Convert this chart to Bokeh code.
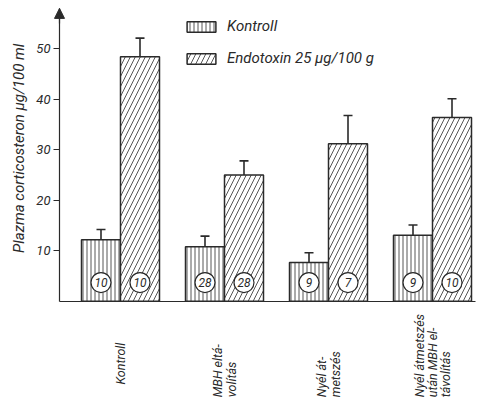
from bokeh.plotting import figure
from bokeh.models import (ColumnDataSource, Range1d, FixedTicker, Whisker, TeeHead,
                          Legend, LegendItem, Arrow, NormalHead, LinearAxis)
from bokeh.core.properties import value
from bokeh.embed import file_html
from bokeh.resources import INLINE

# ---- data ----
categories = ["Kontroll", "MBH eltá-\nvolítás", "Nyél át-\nmetszés",
              "Nyél átmetszés\nután MBH el-\ntávolítás"]
control_mean = [12.2, 10.8, 7.7, 13.1]
control_err = [2.0, 2.1, 1.9, 2.0]
control_n = ["10", "28", "9", "9"]
endo_mean = [48.4, 25.0, 31.2, 36.4]
endo_err = [3.7, 2.8, 5.6, 3.7]
endo_n = ["10", "28", "7", "10"]
y_ticks = [10, 20, 30, 40, 50]
series_names = ["Kontroll", "Endotoxin 25 µg/100 g"]
y_label = "Plazma corticosteron µg/100 ml"

INK = "#2a2a2a"
FONT = "Roboto"
BW = 0.375

idx = list(range(len(categories)))
ctrl = ColumnDataSource(dict(
    x=[i - BW / 2 for i in idx], top=control_mean,
    upper=[m + e for m, e in zip(control_mean, control_err)],
    lower=[m - e for m, e in zip(control_mean, control_err)],
    n=control_n, ny=[3.7] * len(idx)))
endo = ColumnDataSource(dict(
    x=[i + BW / 2 for i in idx], top=endo_mean,
    upper=[m + e for m, e in zip(endo_mean, endo_err)],
    lower=[m - e for m, e in zip(endo_mean, endo_err)],
    n=endo_n, ny=[3.7] * len(idx)))
cats = ColumnDataSource(dict(x=idx, y=[-16.5, -19.0, -19.0, -19.0], text=categories))

x0 = -0.5865      # where the y axis sits
x1 = 3.413        # right end of the base line
y_top = 58        # top of the y axis (arrow tip)
p = figure(width=480, height=403, output_backend="svg", toolbar_location=None,
           x_range=Range1d(-1.1538, 3.4615), y_range=Range1d(-20.24, 59.56),
           x_axis_type=None, min_border_left=0, min_border_right=0,
           min_border_top=0, min_border_bottom=0,
           background_fill_color="white", border_fill_color="white")
p.outline_line_color = None
p.grid.visible = False

r_ctrl = p.vbar(x="x", top="top", width=BW, bottom=0, source=ctrl,
                fill_color="white", line_color=INK, line_width=1.5,
                hatch_pattern="vertical_line", hatch_color=INK,
                hatch_scale=4, hatch_weight=0.8)
r_endo = p.vbar(x="x", top="top", width=BW, bottom=0, source=endo,
                fill_color="white", line_color=INK, line_width=1.5,
                hatch_pattern="right_diagonal_line", hatch_color=INK,
                hatch_scale=10, hatch_weight=0.8)

for src in (ctrl, endo):
    w = Whisker(base="x", upper="upper", lower="lower", source=src,
                line_color=INK, line_width=1.6,
                upper_head=TeeHead(size=9, line_color=INK, line_width=1.6),
                lower_head=TeeHead(size=9, line_color=INK, line_width=1.6))
    p.add_layout(w)
    p.scatter(x="x", y="ny", source=src, size=20, marker="circle",
              fill_color="white", line_color=INK, line_width=1.2)
    p.text(x="x", y="ny", text="n", source=src, text_align="center",
           text_baseline="middle", text_font=value(FONT),
           text_font_style="italic", text_font_size="12px", text_color=INK)

# category labels (rotated, under the groups)
p.text(x="x", y="y", text="text", source=cats, angle=1.5708,
       text_align="left", text_baseline="middle", text_font=value(FONT),
       text_font_style="italic", text_font_size="12.5px", text_color=INK,
       text_line_height=0.88)

# y axis, fixed inside the full-canvas frame
ax = p.yaxis[0]
ax.fixed_location = x0
ax.bounds = (0, y_top)
ax.ticker = FixedTicker(ticks=y_ticks)
ax.minor_tick_line_color = None
ax.major_tick_in = 0
ax.major_tick_out = 6
ax.major_tick_line_color = INK
ax.axis_line_color = INK
ax.axis_line_width = 1.2
ax.major_label_text_font = FONT
ax.major_label_text_font_style = "italic"
ax.major_label_text_font_size = "13px"
ax.major_label_text_color = INK
ax.major_label_standoff = 3

# x base line as an axis without ticks
xax = LinearAxis(fixed_location=0, bounds=(x0, x1), ticker=FixedTicker(ticks=[]),
                 major_tick_line_color=None, minor_tick_line_color=None,
                 major_label_text_font_size="0px", axis_line_color=INK,
                 axis_line_width=1.2)
p.add_layout(xax, "below")

# y-axis title
p.text(x=[-0.98], y=[30.3], text=[y_label], angle=1.5708, text_align="center",
       text_baseline="middle", text_font=value(FONT), text_font_style="italic",
       text_font_size="15px", text_color=INK)

p.add_layout(Arrow(end=NormalHead(size=10, fill_color=INK, line_color=INK),
                   x_start=x0, y_start=y_top - 3, x_end=x0, y_end=y_top,
                   line_color=INK, line_width=1.2))

legend = Legend(items=[LegendItem(label=series_names[0], renderers=[r_ctrl]),
                       LegendItem(label=series_names[1], renderers=[r_endo])],
                location=(183, 336), border_line_color=None,
                background_fill_alpha=0, glyph_width=36, glyph_height=13,
                label_height=13, spacing=14, padding=0, margin=0,
                label_standoff=8, label_text_font=FONT,
                label_text_font_style="italic", label_text_font_size="15px",
                label_text_color=INK)
p.add_layout(legend)

open("out.html", "w").write(file_html(p, INLINE))
